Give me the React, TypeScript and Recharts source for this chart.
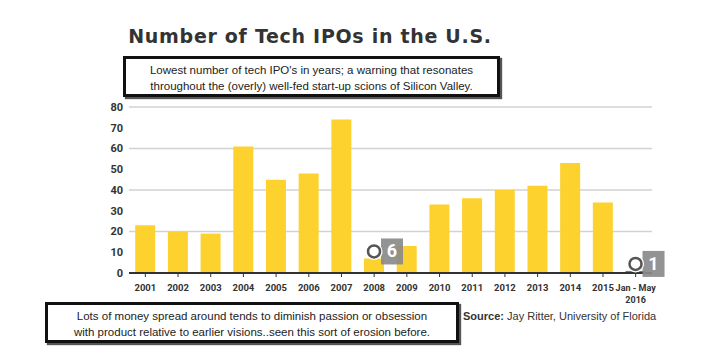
import { BarChart, Bar, XAxis, YAxis, CartesianGrid, Cell, LabelList } from 'recharts'

const years = ['2001', '2002', '2003', '2004', '2005', '2006', '2007', '2008', '2009', '2010', '2011', '2012', '2013', '2014', '2015', 'Jan - May|2016']
const ipoCounts = [23, 20, 19, 61, 45, 48, 74, 7, 13, 33, 36, 40, 42, 53, 34, 1]
const markerLabels = ['', '', '', '', '', '', '', '6', '', '', '', '', '', '', '', '1']
const yTicks = [0, 10, 20, 30, 40, 50, 60, 70, 80]

const data = years.map((year, i) => ({ year, count: ipoCounts[i], marker: markerLabels[i] }))

const YELLOW = '#FDD22F'
const TEAL = '#1f9f8c'

function YearTick({ x, y, payload }: any) {
  const lines = String(payload.value).split('|')
  return (
    <text x={x} y={y + 12} textAnchor="middle" fontSize={lines.length > 1 ? 9 : 9.5} fontWeight={700} fill="#333" fontFamily="Roboto, sans-serif">
      {lines.map((line, i) => (
        <tspan key={i} x={x} dy={i === 0 ? 0 : 12}>{line}</tspan>
      ))}
    </text>
  )
}

function Marker({ x, y, width, value }: any) {
  if (!value) return null
  const cx = x + width / 2
  const cy = y - 7
  return (
    <g>
      <rect x={cx + 7} y={cy - 13} width={22} height={26} fill="#8a8a8a" opacity={0.92} />
      <text x={cx + 18} y={cy + 6} textAnchor="middle" fontSize={18} fontWeight={700} fill="#fff" fontFamily="Roboto, sans-serif">
        {value}
      </text>
      <circle cx={cx} cy={cy} r={6} fill="none" stroke="#fff" strokeWidth={5} />
      <circle cx={cx} cy={cy} r={6} fill="none" stroke="#555" strokeWidth={2.5} />
    </g>
  )
}

const boxStyle: React.CSSProperties = {
  position: 'absolute',
  border: '3px solid #111',
  boxShadow: '2px 2px 1px #555',
  background: '#fff',
  fontFamily: '"Liberation Sans", Arial, sans-serif',
  fontSize: 11.5,
  lineHeight: '16px',
  color: '#222',
  textAlign: 'center',
  boxSizing: 'border-box',
  paddingTop: 3,
}

export default function App() {
  return (
    <div style={{ position: 'absolute', left: 0, top: 0, width: 718, height: 360, background: '#fff', overflow: 'hidden' }}>
      <div
        style={{
          position: 'absolute',
          left: 0,
          width: 620,
          top: 25,
          lineHeight: '22px',
          textAlign: 'center',
          fontFamily: '"DejaVu Sans", sans-serif',
          fontWeight: 700,
          fontSize: 19,
          letterSpacing: 0.7,
          color: '#333',
        }}
      >
        Number of Tech IPOs in the U.S.
      </div>
      <BarChart width={718} height={360} data={data} margin={{ top: 107, right: 66, bottom: 57, left: 0 }} barCategoryGap="19%">
        <CartesianGrid vertical={false} stroke="#d2d2d2" strokeWidth={1.5} />
        <XAxis
          dataKey="year"
          interval={0}
          tick={<YearTick />}
          axisLine={{ stroke: '#333', strokeWidth: 2 }}
          tickLine={{ stroke: '#333' }}
          tickSize={4}
        />
        <YAxis
          width={129}
          domain={[0, 80]}
          ticks={yTicks}
          tickMargin={0}
          axisLine={false}
          tickLine={false}
          tick={{ fontSize: 11, fontWeight: 700, fill: '#333', fontFamily: 'Roboto, sans-serif' }}
        />
        <Bar dataKey="count" isAnimationActive={false}>
          {data.map((d) => (
            <Cell key={d.year} fill={d.year.startsWith('Jan') ? TEAL : YELLOW} />
          ))}
          <LabelList dataKey="marker" content={<Marker />} />
        </Bar>
      </BarChart>
      <div style={{ ...boxStyle, left: 123, top: 56, width: 377, height: 41 }}>
        Lowest number of tech IPO's in years; a warning that resonates
        <br />
        throughout the (overly) well-fed start-up scions of Silicon Valley.
      </div>
      <div style={{ ...boxStyle, left: 45, top: 302, width: 414, height: 41 }}>
        Lots of money spread around tends to diminish passion or obsession
        <br />
        with product relative to earlier visions..seen this sort of erosion before.
      </div>
      <div
        style={{
          position: 'absolute',
          left: 463,
          top: 310,
          fontFamily: '"Liberation Sans", Arial, sans-serif',
          fontSize: 11,
          color: '#333',
        }}
      >
        <b>Source:</b> Jay Ritter, University of Florida
      </div>
    </div>
  )
}
